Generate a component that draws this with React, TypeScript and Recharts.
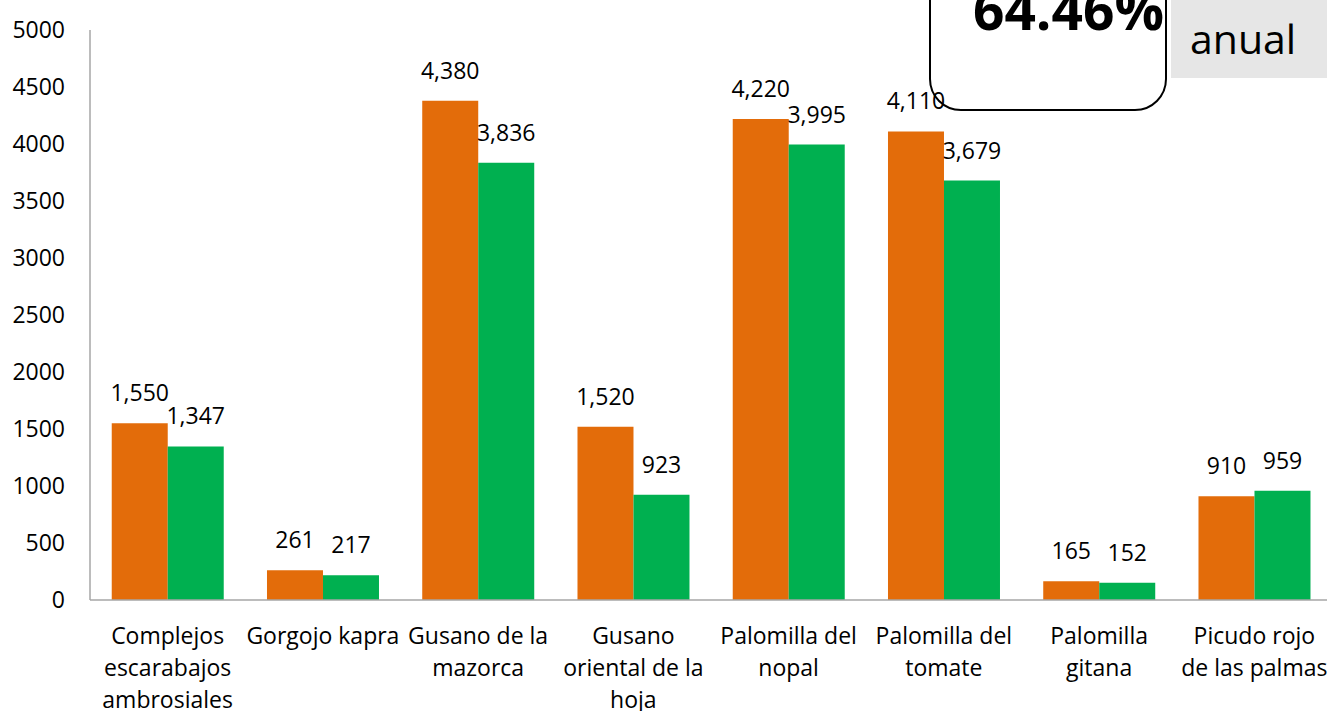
import React from 'react';
import { BarChart, Bar, XAxis, YAxis, LabelList } from 'recharts';

const categories = [
  'Complejos escarabajos ambrosiales',
  'Gorgojo kapra',
  'Gusano de la mazorca',
  'Gusano oriental de la hoja',
  'Palomilla del nopal',
  'Palomilla del tomate',
  'Palomilla gitana',
  'Picudo rojo de las palmas',
];

// how each category name is broken over lines under the axis
const tickLines = [
  ['Complejos', 'escarabajos', 'ambrosiales'],
  ['Gorgojo kapra'],
  ['Gusano de la', 'mazorca'],
  ['Gusano', 'oriental de la', 'hoja'],
  ['Palomilla del', 'nopal'],
  ['Palomilla del', 'tomate'],
  ['Palomilla', 'gitana'],
  ['Picudo rojo', 'de las palmas'],
];

const orangeValues = [1550, 261, 4380, 1520, 4220, 4110, 165, 910];
const greenValues = [1347, 217, 3836, 923, 3995, 3679, 152, 959];
const yTicks = [0, 500, 1000, 1500, 2000, 2500, 3000, 3500, 4000, 4500, 5000];

const data = categories.map((name, i) => ({
  name,
  orange: orangeValues[i],
  green: greenValues[i],
}));

const FONT = '"Open Sans", sans-serif';
const FS = 23;

const CategoryTick: React.FC<any> = ({ x, y, payload, index }) => {
  const lines = tickLines[index] ?? [payload.value];
  return (
    <g transform={`translate(${x},${y})`}>
      {lines.map((line: string, i: number) => (
        <text key={i} x={0} y={36 + i * 32} textAnchor="middle" fontSize={FS} fill="#000" fontFamily={FONT}>
          {line}
        </text>
      ))}
    </g>
  );
};

const ValueLabel: React.FC<any> = ({ x, y, width, value }) => (
  <text x={x + width / 2} y={y - 22} textAnchor="middle" fontSize={FS} fill="#000" fontFamily={FONT}>
    {Number(value).toLocaleString('en-US')}
  </text>
);

const App: React.FC = () => {
  return (
    <div style={{ position: 'absolute', left: 0, top: 0, width: 1327, height: 711, overflow: 'hidden', background: '#fff' }}>
      <BarChart
        width={1340}
        height={711}
        data={data}
        margin={{ top: 30, right: 8, left: 0, bottom: 11 }}
        barCategoryGap="14%"
        barGap={0}
      >
        <XAxis
          dataKey="name"
          interval={0}
          height={100}
          stroke="#a6a6a6"
          strokeWidth={1.5}
          tickLine={false}
          tick={<CategoryTick />}
        />
        <YAxis
          width={90}
          domain={[0, 5000]}
          ticks={yTicks}
          stroke="#a6a6a6"
          strokeWidth={1.5}
          tickLine={false}
          tickSize={0}
          tickMargin={25}
          tick={{ fontSize: FS, fill: '#000', fontFamily: FONT }}
        />
        <Bar dataKey="orange" fill="#E36C0A" isAnimationActive={false}>
          <LabelList dataKey="orange" content={<ValueLabel />} />
        </Bar>
        <Bar dataKey="green" fill="#00B050" isAnimationActive={false}>
          <LabelList dataKey="green" content={<ValueLabel />} />
        </Bar>
      </BarChart>
      <div
        style={{
          position: 'absolute',
          left: 929,
          top: -60,
          width: 238,
          height: 171,
          border: '2px solid #000',
          borderRadius: 32,
          boxSizing: 'border-box',
        }}
      />
      <div
        style={{
          position: 'absolute',
          right: 1327 - 1164,
          top: -36,
          fontFamily: FONT,
          fontWeight: 700,
          fontSize: 55,
          lineHeight: '90px',
          color: '#000',
        }}
      >
        64.46%
      </div>
      <div
        style={{
          position: 'absolute',
          left: 1171,
          top: 0,
          width: 156,
          height: 78,
          background: '#e6e6e6',
        }}
      />
      <div
        style={{
          position: 'absolute',
          left: 1190,
          top: 8,
          fontFamily: FONT,
          fontSize: 41,
          lineHeight: '60px',
          color: '#000',
        }}
      >
        anual
      </div>
    </div>
  );
};

export default App;
